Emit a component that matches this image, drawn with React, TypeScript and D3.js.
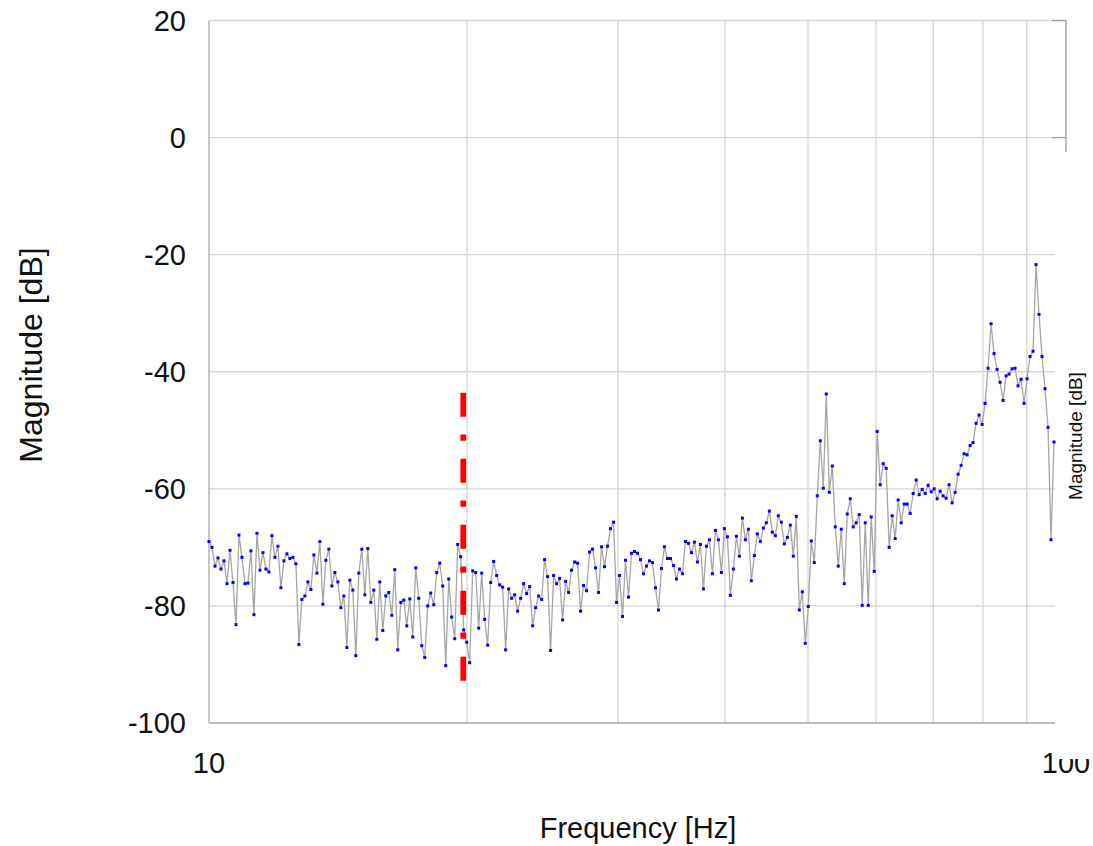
import React from "react";
import * as d3 from "d3";

// ---- data ----
const magnitudes: number[] = [
  -69.0, -70.0, -73.2, -71.8, -73.7, -72.3, -76.2, -70.5, -76.0, -83.2,
  -67.9, -71.7, -76.2, -76.1, -70.6, -81.5, -67.6, -73.9, -70.9, -73.7,
  -74.2, -68.0, -71.7, -69.8, -76.9, -72.3, -71.1, -71.9, -71.7, -72.8,
  -86.6, -78.9, -78.3, -75.9, -77.2, -71.3, -74.4, -69.0, -79.7, -72.2,
  -70.3, -76.6, -74.3, -75.9, -80.3, -78.3, -87.1, -75.6, -77.3, -88.5,
  -74.4, -70.3, -78.1, -70.2, -79.4, -77.3, -85.7, -75.9, -84.2, -78.3,
  -77.7, -81.6, -73.8, -87.5, -79.4, -79.0, -83.4, -78.8, -85.3, -73.5,
  -78.7, -86.8, -88.8, -80.0, -77.8, -79.8, -74.3, -72.7, -76.6, -90.2,
  -75.4, -81.9, -85.6, -69.5, -71.6, -84.1, -86.2, -89.7, -74.0, -74.3,
  -83.8, -74.4, -82.3, -86.7, -76.0, -72.4, -74.8, -76.4, -76.8, -87.5,
  -77.1, -78.7, -78.1, -80.9, -78.7, -76.2, -77.9, -76.7, -83.4, -80.3,
  -78.3, -78.9, -72.1, -75.0, -87.6, -74.8, -76.2, -75.3, -82.4, -75.8,
  -77.7, -73.9, -72.5, -72.7, -80.9, -76.5, -77.4, -70.8, -70.3, -73.5,
  -77.7, -69.9, -73.3, -69.8, -66.8, -65.7, -79.4, -74.8, -81.8, -72.2,
  -78.5, -71.0, -70.7, -71.0, -72.1, -74.5, -73.2, -72.3, -72.6, -76.9,
  -80.7, -73.6, -69.9, -71.9, -71.9, -73.1, -75.4, -73.7, -74.5, -69.0,
  -69.3, -70.9, -69.1, -72.5, -69.5, -77.1, -69.8, -68.7, -74.5, -67.1,
  -68.7, -74.3, -66.8, -68.2, -78.2, -73.7, -68.1, -71.5, -65.0, -68.7,
  -66.9, -75.7, -71.4, -67.7, -69.0, -66.7, -65.8, -63.8, -67.4, -68.0,
  -64.6, -65.7, -69.4, -68.3, -66.2, -71.5, -64.7, -80.7, -77.6, -86.4,
  -80.1, -68.9, -72.6, -61.2, -51.8, -59.9, -43.8, -60.6, -56.1, -66.5,
  -73.2, -66.9, -76.2, -64.3, -61.7, -66.5, -65.8, -64.4, -79.9, -65.8,
  -79.9, -64.8, -74.1, -50.2, -59.3, -55.7, -56.5, -70.0, -64.6, -68.5,
  -61.9, -65.8, -62.6, -62.6, -64.2, -60.8, -58.5, -61.0, -60.1, -60.8,
  -59.4, -60.5, -60.0, -61.7, -60.4, -61.2, -61.6, -59.3, -62.4, -60.6,
  -57.5, -56.0, -54.0, -54.2, -52.6, -52.1, -48.8, -47.4, -49.0, -45.4,
  -39.4, -31.8, -36.9, -39.6, -41.8, -44.9, -40.7, -40.4, -39.5, -39.4,
  -42.4, -41.3, -45.4, -41.2, -37.4, -36.5, -21.7, -30.2, -37.4, -42.9,
  -49.5, -68.7, -52.0,
];

// log-spaced frequency grid of the samples (Hz)
const FREQ_START = 10;
const FREQ_END = 96.83;
const frequencies: number[] = magnitudes.map(
  (_, i) => FREQ_START * Math.pow(FREQ_END / FREQ_START, i / (magnitudes.length - 1))
);

const yTicks: number[] = [20, 0, -20, -40, -60, -80, -100];
const xGridFreqs: number[] = [20, 30, 40, 50, 60, 70, 80, 90];
const xTickLabels: { value: number; label: string }[] = [
  { value: 10, label: "10" },
  { value: 100, label: "100" },
];

const MARKER_FREQ = 19.8;
const MARKER_TOP = -43.6;
const MARKER_BOTTOM = -92.8;

const X_TITLE = "Frequency [Hz]";
const Y_TITLE = "Magnitude [dB]";
const Y2_TITLE = "Magnitude [dB]";

// ---- layout ----
const W = 1093;
const H = 846;
const LEFT = 209;
const RIGHT = 1066;
const TOP = 20.5;
const BOTTOM = 723;
const FONT = "'Liberation Sans', Arial, sans-serif";

export default function App() {
  const x = d3.scaleLog().domain([10, 100]).range([LEFT, RIGHT]);
  const y = d3.scaleLinear().domain([-100, 20]).range([BOTTOM, TOP]);

  const pts: [number, number][] = frequencies.map((f, i) => [f, magnitudes[i]]);
  const line = d3
    .line<[number, number]>()
    .x((d) => x(d[0]))
    .y((d) => y(d[1]));

  const gridColor = "#d6d6d6";
  const axisColor = "#a9a9a9";

  return (
    <svg
      width={W}
      height={H}
      style={{ position: "absolute", left: 0, top: 0, background: "#fff" }}
    >
      <rect x={0} y={0} width={W} height={H} fill="#fff" />
      {/* horizontal grid */}
      {yTicks
        .filter((t) => t !== -100)
        .map((t) => (
          <line
            key={"h" + t}
            x1={LEFT}
            x2={t === 20 ? RIGHT : 1055}
            y1={y(t)}
            y2={y(t)}
            stroke={gridColor}
            strokeWidth={1.3}
          />
        ))}
      {/* vertical grid */}
      {xGridFreqs.map((f) => (
        <line
          key={"v" + f}
          x1={x(f)}
          x2={x(f)}
          y1={TOP}
          y2={BOTTOM}
          stroke={gridColor}
          strokeWidth={1.3}
        />
      ))}
      {/* axes */}
      <line x1={LEFT} x2={LEFT} y1={TOP} y2={BOTTOM} stroke={axisColor} strokeWidth={1.3} />
      <line x1={LEFT} x2={1055} y1={BOTTOM} y2={BOTTOM} stroke={axisColor} strokeWidth={1.3} />
      {/* right axis fragment */}
      <line x1={RIGHT} x2={RIGHT} y1={TOP} y2={152} stroke="#9a9a9a" strokeWidth={1.3} />
      {[20, 0].map((t) => (
        <line
          key={"rt" + t}
          x1={1052}
          x2={RIGHT}
          y1={y(t)}
          y2={y(t)}
          stroke="#a0a0a0"
          strokeWidth={1.3}
        />
      ))}

      {/* data line */}
      <path d={line(pts) || ""} fill="none" stroke="#a6a6a6" strokeWidth={1.3} />
      {pts.map((d, i) => (
        <rect
          key={"p" + i}
          x={x(d[0]) - 1.5}
          y={y(d[1]) - 1.5}
          width={3}
          height={3}
          fill="#0000ff"
        />
      ))}

      {/* red marker */}
      <line
        x1={x(MARKER_FREQ)}
        x2={x(MARKER_FREQ)}
        y1={y(MARKER_TOP)}
        y2={y(MARKER_BOTTOM)}
        stroke="#ff0000"
        strokeWidth={5.7}
        strokeDasharray="24,17.6,6.4,18"
      />

      {/* y tick labels */}
      {yTicks.map((t) => (
        <text
          key={"yl" + t}
          x={186}
          y={y(t)}
          dy="0.36em"
          textAnchor="end"
          fontFamily={FONT}
          fontSize={29}
          fill="#111"
        >
          {t}
        </text>
      ))}
      {/* x tick labels */}
      {xTickLabels.map((t) => (
        <text
          key={"xl" + t.label}
          x={x(t.value)}
          y={773}
          textAnchor="middle"
          fontFamily={FONT}
          fontSize={29}
          fill="#111"
        >
          {t.label}
        </text>
      ))}

      {/* cover panel on the right */}
      <rect x={1056} y={152} width={W - 1056} height={759 - 152} fill="#fff" />
      <text
        transform={`translate(1081.5, 436) rotate(-90)`}
        textAnchor="middle"
        fontFamily={FONT}
        fontSize={19}
        fill="#111"
      >
        {Y2_TITLE}
      </text>

      {/* titles */}
      <text
        transform={`translate(42, 355) rotate(-90)`}
        textAnchor="middle"
        fontFamily={FONT}
        fontSize={32}
        fill="#111"
      >
        {Y_TITLE}
      </text>
      <text
        x={638}
        y={838}
        textAnchor="middle"
        fontFamily={FONT}
        fontSize={29}
        fill="#111"
      >
        {X_TITLE}
      </text>
    </svg>
  );
}
